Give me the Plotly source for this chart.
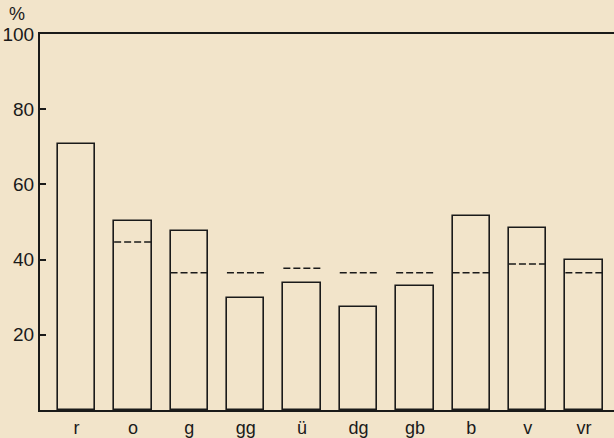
import plotly.graph_objects as go

categories = ["r", "o", "g", "gg", "ü", "dg", "gb", "b", "v", "vr"]
bar_values = [70.7, 50.3, 47.5, 29.7, 33.7, 27.5, 33.0, 51.5, 48.5, 39.8]
dash_values = [None, 44.7, 36.5, 36.5, 37.7, 36.5, 36.5, 36.5, 38.8, 36.5]
y_ticks = [20, 40, 60, 80, 100]

BG = "#F2E4CA"
INK = "#1a1a1a"
BAR_W = 0.665
FONT = "Liberation Sans"

xpos = list(range(len(categories)))

fig = go.Figure()
fig.add_trace(go.Bar(
    x=xpos, y=bar_values, width=BAR_W,
    marker=dict(color="rgba(0,0,0,0)", line=dict(color=INK, width=1.6)),
    showlegend=False, hoverinfo="skip",
))

dx, dy = [], []
for i, v in enumerate(dash_values):
    if v is None:
        continue
    dx += [i - BAR_W / 2, i + BAR_W / 2, None]
    dy += [v, v, None]
fig.add_trace(go.Scatter(
    x=dx, y=dy, mode="lines",
    line=dict(color=INK, width=1.5, dash="7px,3px"),
    showlegend=False, hoverinfo="skip",
))

fig.add_annotation(
    text="%", xref="paper", yref="paper", x=0, y=1,
    xanchor="center", yanchor="middle", xshift=-23, yshift=20,
    showarrow=False, font=dict(family=FONT, size=18, color=INK),
)

fig.update_layout(
    width=614, height=438,
    margin=dict(l=40, r=0, t=34, b=28),
    paper_bgcolor=BG, plot_bgcolor=BG,
    bargap=0,
    font=dict(family=FONT, size=19, color=INK),
    xaxis=dict(
        range=[-0.647, 9.53], tickvals=xpos, ticktext=categories,
        showgrid=False, zeroline=False, showline=True, linecolor=INK,
        linewidth=2, mirror=True, ticks="", fixedrange=True,
        automargin=False, ticklabelstandoff=0,
        tickfont=dict(family=FONT, size=18, color=INK),
    ),
    yaxis=dict(
        range=[0, 100], tickvals=y_ticks, ticktext=[str(t) for t in y_ticks],
        showgrid=False, zeroline=False, showline=True, linecolor=INK,
        linewidth=2, ticks="inside", ticklen=6, tickwidth=1.5,
        tickcolor=INK, fixedrange=True, automargin=False,
        ticklabelstandoff=0,
    ),
)

fig.write_html(
    "out.html",
    config={"displayModeBar": False},
    post_script="document.body.style.margin='0';document.body.style.background='" + BG + "';",
)
